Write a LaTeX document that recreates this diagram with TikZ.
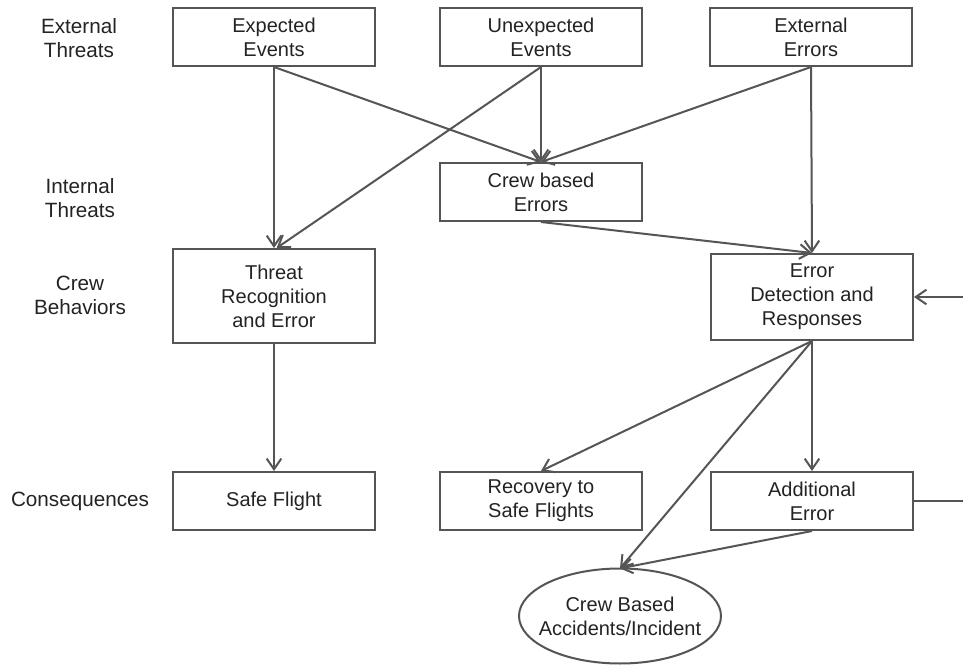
\documentclass[tikz,border=0pt]{standalone}
\usepackage{fontspec}
\setmainfont{Liberation Sans}
\usetikzlibrary{arrows.meta,shapes.geometric}
\definecolor{linec}{RGB}{85,85,85}
\definecolor{textc}{RGB}{35,35,35}
\begin{document}
\begin{tikzpicture}[x=0.75pt,y=-0.75pt,
  box/.style={draw=linec, line width=1.5pt, rectangle, minimum width=151.5pt,
    minimum height=43.5pt, align=center, text=textc, inner sep=2pt,
    font=\fontsize{15}{18}\selectfont},
  lab/.style={align=center, text=textc, font=\fontsize{15.5}{18}\selectfont},
  ovaltext/.style={rectangle, minimum width=152pt, minimum height=71pt,
    inner sep=0pt, align=center, text=textc, font=\fontsize{15}{18}\selectfont},
  arr/.style={draw=linec, line width=1.5pt, -{Straight Barb[length=8pt,width=11pt,line width=1.5pt]}}
]
\clip (0,0) rectangle (963,666);
\fill[white] (0,0) rectangle (963,666);

% row labels
\node[lab] (l1) at (79,38) {External\\Threats};
\node[lab] (l2) at (80,198) {Internal\\Threats};
\node[lab] (l3) at (80,295) {Crew\\Behaviors};
\node[lab] (l4) at (80,501) {Consequences};

% boxes
\node[box] (EE) at (274,37) {Expected\\Events};
\node[box] (UE) at (541,37) {Unexpected\\Events};
\node[box] (XE) at (811,37) {External\\Errors};
\node[box] (CBE) at (541,192) {Crew based\\Errors};
\node[box, minimum height=70.5pt] (TRE) at (274,296) {Threat\\Recognition\\and Error};
\node[box, minimum height=64.5pt] (EDR) at (812,297) {Error\\Detection and\\Responses};
\node[box] (SF) at (274,501) {Safe Flight};
\node[box] (RSF) at (541,501) {Recovery to\\Safe Flights};
\node[box] (AE) at (812,501) {Additional\\Error};
\node[ovaltext] (CBA) at (620,616) {Crew Based\\Accidents/Incident};
\draw[draw=linec, line width=1.5pt] (CBA.center) ellipse [x radius=101, y radius=47.5];

% connectors
\draw[arr] (EE.south) -- (TRE.north);
\draw[arr] (EE.south) -- (CBE.north);
\draw[arr] (UE.south) -- ([xshift=2pt]TRE.north);
\draw[arr] (UE.south) -- (CBE.north);
\draw[arr] (XE.south) -- (CBE.north);
\draw[arr] (XE.south) -- (EDR.north);
\draw[arr] (CBE.south) -- (EDR.north);
\draw[arr] (TRE.south) -- (SF.north);
\draw[arr] (EDR.south) -- (RSF.north);
\draw[arr] (EDR.south) -- (CBA.north);
\draw[arr] (EDR.south) -- (AE.north);
\draw[arr] (AE.south) -- (CBA.north);
\coordinate (loop) at (990,501);
\draw[arr] (AE.east) -- (loop) |- (EDR.east);
\end{tikzpicture}
\end{document}
